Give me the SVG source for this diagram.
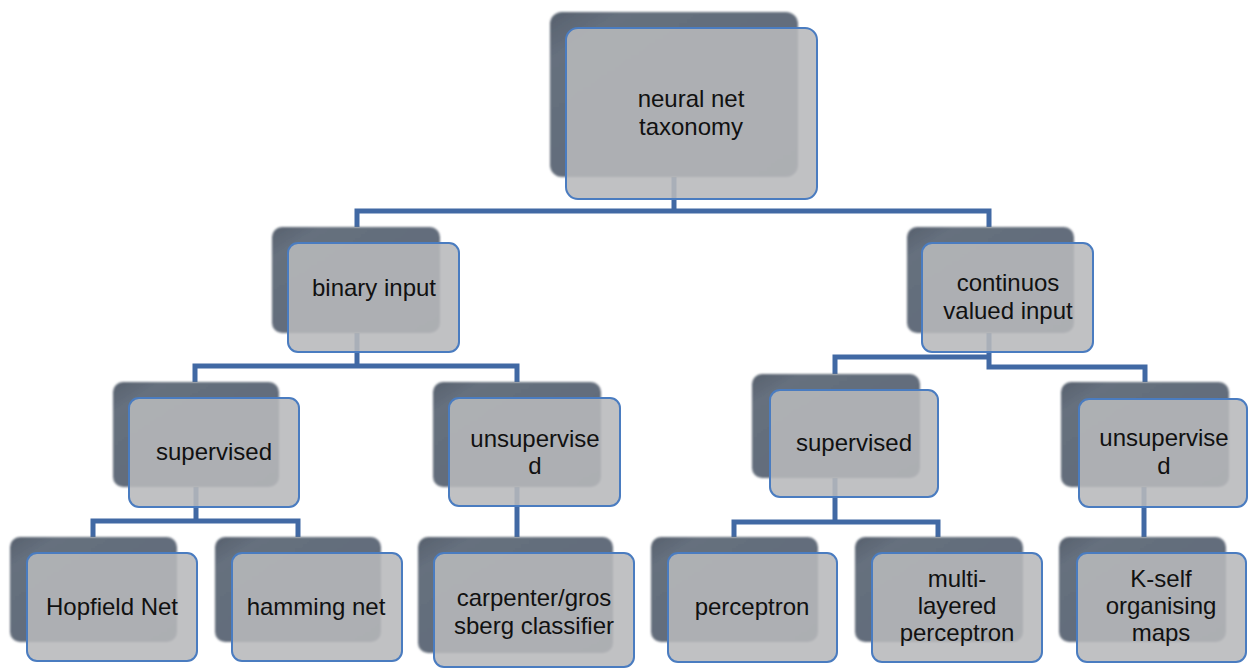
<svg xmlns="http://www.w3.org/2000/svg" width="1254" height="669" viewBox="0 0 1254 669">
<defs>
<linearGradient id="backGrad" x1="0" y1="0" x2="1" y2="1">
<stop offset="0" stop-color="#56606d"/>
<stop offset="0.15" stop-color="#66707e"/>
<stop offset="1" stop-color="#5f6977"/>
</linearGradient>
<filter id="soft" x="-5%" y="-5%" width="110%" height="110%">
<feGaussianBlur stdDeviation="0.8"/>
</filter>
</defs>
<style>
.back{fill:url(#backGrad);filter:url(#soft)}
.front{fill:#b7b8bb;fill-opacity:0.88;stroke:#4a7cc0;stroke-width:2}
.conn{fill:none;stroke:#4169a4;stroke-width:5;stroke-linejoin:miter}
.lbl{font-family:"Liberation Sans",Arial,sans-serif;font-size:24px;fill:#111111;text-anchor:middle}
</style>
<rect width="1254" height="669" fill="#ffffff"/>
<g id="connectors">
<polyline class="conn" points="674,177 674,211"/>
<polyline class="conn" points="357,227 357,211 989,211 989,227"/>
<polyline class="conn" points="357,333 357,366"/>
<polyline class="conn" points="195,382 195,366 517,366 517,382"/>
<polyline class="conn" points="196,487 196,521"/>
<polyline class="conn" points="93,537 93,521 298,521 298,537"/>
<polyline class="conn" points="517,487 517,537"/>
<polyline class="conn" points="989,333 989,367 1145,367 1145,382"/>
<polyline class="conn" points="835,374 835,357 989,357"/>
<polyline class="conn" points="835,478 835,522"/>
<polyline class="conn" points="734,537 734,522 938,522 938,537"/>
<polyline class="conn" points="1144,487 1144,537"/>
</g>
<g id="node-root">
<rect class="back" x="550" y="12" width="248" height="165" rx="12"/>
<rect class="front" x="566" y="28" width="251" height="171" rx="12"/>
<text class="lbl" x="691" y="107">neural net</text>
<text class="lbl" x="691" y="135">taxonomy</text>
</g>
<g id="node-binary">
<rect class="back" x="272" y="227" width="168" height="106" rx="10"/>
<rect class="front" x="288" y="243" width="171" height="109" rx="10"/>
<text class="lbl" x="374" y="296">binary input</text>
</g>
<g id="node-continuous">
<rect class="back" x="907" y="227" width="167" height="106" rx="10"/>
<rect class="front" x="922" y="243" width="171" height="109" rx="10"/>
<text class="lbl" x="1008" y="291">continuos</text>
<text class="lbl" x="1008" y="319">valued input</text>
</g>
<g id="node-sup-left">
<rect class="back" x="113" y="382" width="166" height="105" rx="10"/>
<rect class="front" x="129" y="398" width="170" height="109" rx="10"/>
<text class="lbl" x="214" y="460">supervised</text>
</g>
<g id="node-unsup-left">
<rect class="back" x="433" y="382" width="168" height="105" rx="10"/>
<rect class="front" x="449" y="398" width="171" height="108" rx="10"/>
<text class="lbl" x="535" y="447">unsupervise</text>
<text class="lbl" x="535" y="474">d</text>
</g>
<g id="node-sup-right">
<rect class="back" x="752" y="374" width="168" height="104" rx="10"/>
<rect class="front" x="770" y="390" width="168" height="107" rx="10"/>
<text class="lbl" x="854" y="451">supervised</text>
</g>
<g id="node-unsup-right">
<rect class="back" x="1061" y="382" width="168" height="105" rx="10"/>
<rect class="front" x="1079" y="399" width="168" height="108" rx="10"/>
<text class="lbl" x="1164" y="446">unsupervise</text>
<text class="lbl" x="1164" y="474">d</text>
</g>
<g id="node-hopfield">
<rect class="back" x="10" y="537" width="167" height="105" rx="10"/>
<rect class="front" x="27" y="553" width="170" height="108" rx="10"/>
<text class="lbl" x="112" y="615">Hopfield Net</text>
</g>
<g id="node-hamming">
<rect class="back" x="215" y="537" width="166" height="105" rx="10"/>
<rect class="front" x="232" y="553" width="170" height="108" rx="10"/>
<text class="lbl" x="316" y="615">hamming net</text>
</g>
<g id="node-carpenter">
<rect class="back" x="418" y="537" width="195" height="116" rx="10"/>
<rect class="front" x="434" y="553" width="200" height="114" rx="10"/>
<text class="lbl" x="534" y="606">carpenter/gros</text>
<text class="lbl" x="534" y="634">sberg classifier</text>
</g>
<g id="node-perceptron">
<rect class="back" x="651" y="537" width="167" height="105" rx="10"/>
<rect class="front" x="668" y="553" width="169" height="109" rx="10"/>
<text class="lbl" x="752" y="615">perceptron</text>
</g>
<g id="node-multilayer">
<rect class="back" x="855" y="537" width="168" height="105" rx="10"/>
<rect class="front" x="872" y="553" width="170" height="109" rx="10"/>
<text class="lbl" x="957" y="587">multi-</text>
<text class="lbl" x="957" y="614">layered</text>
<text class="lbl" x="957" y="641">perceptron</text>
</g>
<g id="node-kself">
<rect class="back" x="1059" y="537" width="167" height="105" rx="10"/>
<rect class="front" x="1077" y="553" width="169" height="109" rx="10"/>
<text class="lbl" x="1161" y="587">K-self</text>
<text class="lbl" x="1161" y="614">organising</text>
<text class="lbl" x="1161" y="641">maps</text>
</g>
</svg>
